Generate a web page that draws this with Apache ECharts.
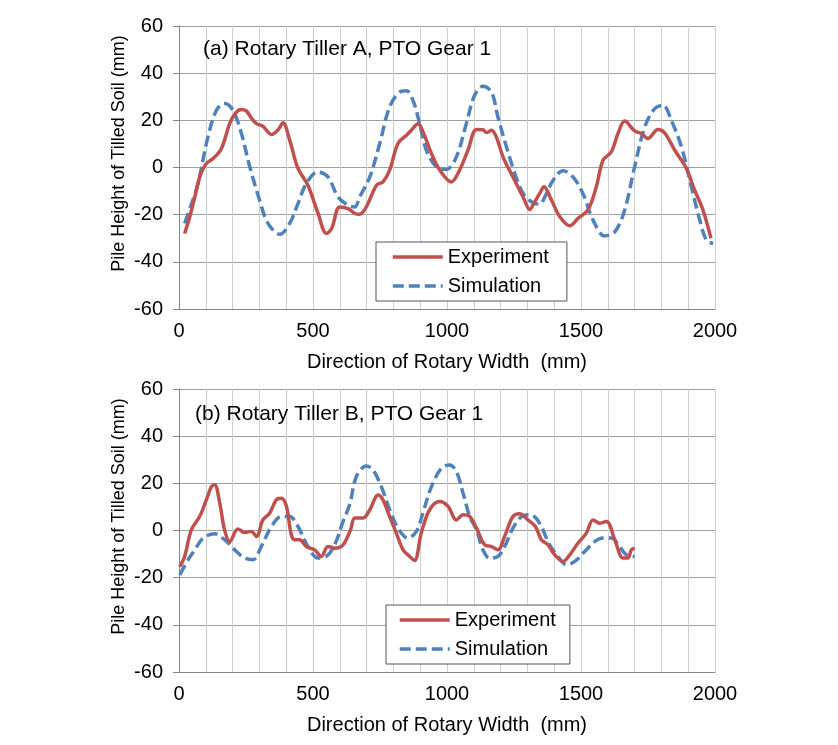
<!DOCTYPE html>
<html><head><meta charset="utf-8">
<script src="https://cdn.jsdelivr.net/npm/echarts@6/dist/echarts.min.js"></script>
<style>html,body{margin:0;padding:0;background:#fff}#c{width:838px;height:745px}</style>
</head><body><div id="c"></div>
<script>
// ---- data (x in mm, y in mm) ----
const seriesNames = ['Experiment', 'Simulation'];
const panelTitles = ['(a) Rotary Tiller A, PTO Gear 1', '(b) Rotary Tiller B, PTO Gear 1'];
const xLabelValues = [0, 500, 1000, 1500, 2000];
const xAxisName = 'Direction of Rotary Width  (mm)';
const yAxisName = 'Pile Height of Tilled Soil (mm)';

const topExperiment = [[21,-28],[40,-21],[59,-12.5],[80,-3],[102,1.7],[127,3.8],[158,8],[189,18.6],[210,23],[233,24.6],[251,24],[270,21],[289,18.6],[313,17.5],[345,14],[370,16],[388,19],[413,11.6],[444,-0.4],[481,-7.5],[519,-19.5],[550,-28],[569,-26],[600,-16.7],[631,-17.4],[656,-19.5],[674,-19.8],[699,-16.7],[737,-7.5],[761,-6.1],[786,-1.1],[817,10.2],[849,13.7],[867,15.8],[892,18.6],[911,15],[942,5.9],[973,-1.1],[1016,-6.1],[1047,-1.1],[1078,7.3],[1110,16.1],[1134,16],[1147,14.8],[1166,15.8],[1184,13],[1209,4.5],[1246,-4],[1284,-12.5],[1309,-17.8],[1327,-14.6],[1346,-11],[1362,-8.2],[1390,-13.9],[1421,-20.9],[1458,-24.7],[1489,-21.6],[1526,-18],[1557,-8.2],[1582,3.1],[1613,6.6],[1638,14.4],[1663,19.7],[1700,15.5],[1725,14.4],[1750,12.3],[1787,16.1],[1812,14.7],[1850,7.3],[1893,-0.4],[1924,-9.6],[1955,-18],[1985,-30]];
const topSimulation = [[21,-23.7],[45,-16],[71,-6.8],[108,13],[140,24.3],[170,27.1],[201,24.3],[233,14.4],[264,0.3],[301,-13.9],[332,-23.7],[376,-28.3],[413,-23.7],[444,-15.3],[475,-6.8],[519,-1.9],[556,-4],[593,-12.5],[631,-16],[656,-16.7],[674,-12.5],[712,-4],[749,10.2],[786,25.7],[824,32],[849,32.5],[873,28.5],[898,18.6],[923,7.3],[960,0.3],[998,-0.8],[1035,4.5],[1072,18.6],[1103,30.6],[1134,34.4],[1166,32],[1190,21.4],[1222,8.7],[1253,-2.5],[1284,-11],[1321,-15],[1346,-15.5],[1365,-12.5],[1396,-5.4],[1433,-1.4],[1470,-4],[1507,-11],[1545,-22.3],[1588,-29],[1626,-27.3],[1663,-18],[1700,0.3],[1738,17.2],[1775,25],[1806,26.4],[1837,20],[1875,8.7],[1912,-8.2],[1943,-22.3],[1968,-30.8],[1993,-32.2]];
const bottomExperiment = [[3,-15.3],[21,-11],[46,0.3],[77,5.9],[102,13],[121,18.6],[133,19.4],[152,11.6],[170,0.3],[189,-4.7],[220,0.6],[245,-0.8],[270,-0.4],[289,-2.5],[313,4.5],[338,7.3],[363,13],[382,13.7],[401,10.2],[419,-1.8],[432,-3.9],[450,-3.9],[475,-6.8],[506,-8.2],[531,-11],[556,-6.8],[581,-7.5],[612,-6.1],[640,0.3],[656,5.3],[687,5.3],[712,8.8],[743,15.1],[761,13],[786,5.9],[811,-1.1],[836,-8.2],[861,-11],[879,-12.7],[904,-1.1],[935,8.8],[973,12.3],[1004,10.2],[1035,4.5],[1060,6.7],[1085,5.9],[1110,1],[1141,-6.1],[1166,-6.8],[1190,-8.2],[1215,-2.5],[1246,5.9],[1271,7.1],[1302,4.5],[1330,1.7],[1352,-3.9],[1377,-6.1],[1402,-10.3],[1433,-13.1],[1458,-10.3],[1489,-5.3],[1520,-1.1],[1545,4.5],[1570,3.1],[1595,3.8],[1626,-3.9],[1657,-11.7],[1675,-11.7],[1688,-8.2],[1700,-7.5]];
const bottomSimulation = [[3,-18.8],[34,-12.4],[59,-8.2],[90,-3.2],[133,-1.4],[170,-3.9],[208,-8.2],[245,-11.7],[276,-12.4],[307,-6.8],[345,1.7],[382,5.9],[413,5.9],[444,1.7],[481,-6.8],[519,-11.7],[550,-11],[581,-6.1],[612,3.8],[637,11],[662,22.9],[699,27.4],[724,25.7],[755,18.6],[786,8.8],[817,1],[854,-3.2],[886,-0.4],[910,7.4],[942,18.6],[979,26.4],[1010,27.8],[1035,25],[1060,15.8],[1085,5.9],[1110,0.3],[1134,-8.2],[1159,-11.7],[1190,-11],[1215,-6.8],[1246,1],[1278,5.9],[1309,6.7],[1330,5.5],[1352,1.7],[1383,-6.1],[1414,-11],[1446,-14.5],[1477,-13.1],[1514,-8.9],[1551,-4.7],[1582,-3.2],[1613,-3.2],[1644,-6.8],[1669,-10.3],[1700,-11]];

// ---- styling ----
const FONT = '"Liberation Sans", Arial, sans-serif';
const FS = 20;
const RED = '#c0504d', BLUE = '#4f81bd';
const chart = echarts.init(document.getElementById('c'), null, {renderer: 'canvas'});

function xAx(gi) {
  return {
    type: 'value', gridIndex: gi, min: 0, max: 2000, interval: 100,
    name: xAxisName, nameLocation: 'middle', nameGap: 43,
    nameTextStyle: {fontFamily: FONT, fontSize: FS, color: '#000'},
    axisLine: {show: true, onZero: false, lineStyle: {color: '#868686', width: 1}},
    axisTick: {show: false},
    axisLabel: {fontFamily: FONT, fontSize: FS, color: '#000', margin: 12,
      formatter: v => xLabelValues.indexOf(v) >= 0 ? String(v) : ''},
    splitLine: {show: true, lineStyle: {color: '#cfcfcf', width: 1}}
  };
}
function yAx(gi) {
  return {
    type: 'value', gridIndex: gi, min: -60, max: 60, interval: 20,
    name: yAxisName, nameLocation: 'middle', nameGap: 51, nameRotate: 90,
    nameMoveOverlap: false,
    nameTextStyle: {fontFamily: FONT, fontSize: 18, color: '#000', padding: [0, 0, 0, 28]},
    axisLine: {show: true, lineStyle: {color: '#868686', width: 1}},
    axisTick: {show: true, length: 6, lineStyle: {color: '#868686'}},
    axisLabel: {fontFamily: FONT, fontSize: FS, color: '#000', margin: 16},
    splitLine: {show: true, lineStyle: {color: '#a0a0a0', width: 1}}
  };
}
function ser(name, data, gi, color, dashed) {
  return {
    type: 'line', name: name, xAxisIndex: gi, yAxisIndex: gi, data: data,
    smooth: 0.35, symbol: 'none', showSymbol: false,
    lineStyle: {color: color, width: 3.5, type: dashed ? [11, 5] : 'solid'},
    itemStyle: {color: color}, z: dashed ? 3 : 4
  };
}
function leg(left, top, padding) {
  return {
    orient: 'vertical', left: left, top: top, data: seriesNames,
    itemWidth: 50, itemHeight: 14, itemGap: 9, padding: padding,
    borderColor: '#555', borderWidth: 1, backgroundColor: '#fff', borderRadius: 0,
    textStyle: {fontFamily: FONT, fontSize: FS, color: '#000'},
    itemStyle: {opacity: 0, color: 'rgba(0,0,0,0)', borderWidth: 0},
    lineStyle: {width: 3.5},
    selectedMode: false
  };
}

chart.setOption({
  animation: false,
  backgroundColor: '#fff',
  title: [
    {text: panelTitles[0], left: 203, top: 39, padding: 0, textStyle: {fontFamily: FONT, fontSize: 21, fontWeight: 'normal', color: '#000'}},
    {text: panelTitles[1], left: 195, top: 404, padding: 0, textStyle: {fontFamily: FONT, fontSize: 21, fontWeight: 'normal', color: '#000'}}
  ],
  grid: [
    {left: 179, top: 26, width: 536, height: 283},
    {left: 179, top: 389, width: 536, height: 283}
  ],
  xAxis: [xAx(0), xAx(1)],
  yAxis: [yAx(0), yAx(1)],
  legend: [leg(376, 242, [5, 18, 5, 15]), leg(386, 605, [5, 14, 5, 12])],
  series: [
    ser(seriesNames[0], topExperiment, 0, RED, false),
    ser(seriesNames[1], topSimulation, 0, BLUE, true),
    ser(seriesNames[0], bottomExperiment, 1, RED, false),
    ser(seriesNames[1], bottomSimulation, 1, BLUE, true)
  ]
});
</script></body></html>
